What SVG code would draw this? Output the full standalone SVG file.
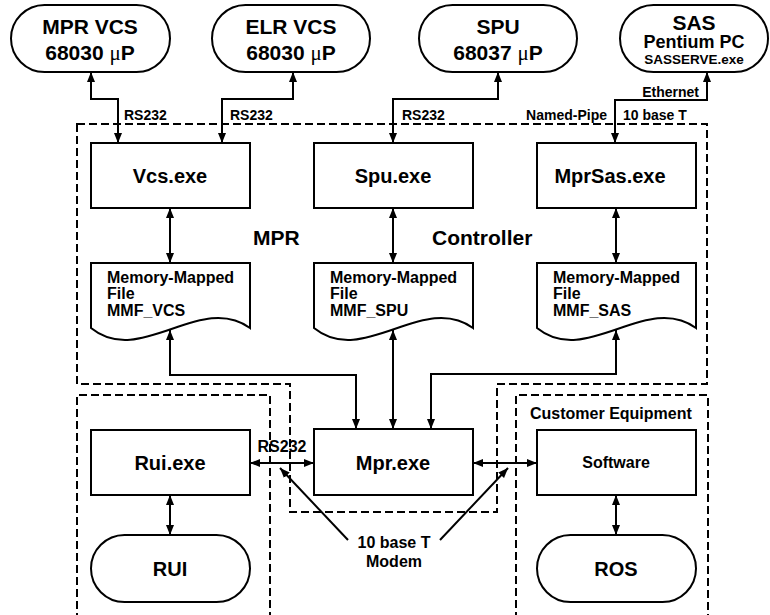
<svg xmlns="http://www.w3.org/2000/svg" width="770" height="615" viewBox="0 0 770 615">
<defs>
<marker id="ah" viewBox="0 0 10 8" refX="10" refY="4" markerWidth="10" markerHeight="8" markerUnits="userSpaceOnUse" orient="auto-start-reverse">
<path d="M0,0 L10,4 L0,8 z" fill="#000"/>
</marker>
<style>
text{font-family:"Liberation Sans",Arial,sans-serif;font-weight:bold;fill:#000}
.n{fill:#fff;stroke:#000;stroke-width:2}
.d{fill:none;stroke:#000;stroke-width:2;stroke-dasharray:8 4}
.c{fill:none;stroke:#000;stroke-width:2}
.b{marker-start:url(#ah);marker-end:url(#ah)}
.e{marker-end:url(#ah)}
.mu{font-family:"Liberation Serif",serif;font-weight:normal}
.t21{font-size:21px}
.t20{font-size:20px}
.t16{font-size:16px}
.t15{font-size:15px}
.t14{font-size:14px}
</style>
</defs>
<rect width="770" height="615" fill="#fff"/>
<g id="boundaries">
<path class="d" d="M77,124 H707 V384 H497 V512 H290 V384 H77 Z"/>
<path class="d" d="M270,620 V395 H77 V620"/>
<path class="d" d="M516,620 V395 H708 V620"/>
<text class="t21" x="253" y="245">MPR</text>
<text class="t21" x="432" y="245">Controller</text>
<text class="t16" x="530" y="419">Customer Equipment</text>
</g>
<g id="mprvcs">
<rect class="n" x="11" y="5" width="159" height="67" rx="33.5"/>
<text class="t21" x="90" y="34" text-anchor="middle">MPR VCS</text>
<text class="t21" x="90" y="60" text-anchor="middle">68030 <tspan class="mu">μ</tspan>P</text>
</g>
<g id="elrvcs">
<rect class="n" x="212" y="5" width="158" height="67" rx="33.5"/>
<text class="t21" x="291" y="34" text-anchor="middle">ELR VCS</text>
<text class="t21" x="291" y="60" text-anchor="middle">68030 <tspan class="mu">μ</tspan>P</text>
</g>
<g id="spu">
<rect class="n" x="419" y="5" width="158" height="67" rx="33.5"/>
<text class="t21" x="498" y="34" text-anchor="middle">SPU</text>
<text class="t21" x="498" y="60" text-anchor="middle">68037 <tspan class="mu">μ</tspan>P</text>
</g>
<g id="sas">
<rect class="n" x="620" y="5" width="148" height="67" rx="33.5"/>
<text class="t21" x="694" y="30" text-anchor="middle">SAS</text>
<text x="694" y="48" text-anchor="middle" style="font-size:18px">Pentium PC</text>
<text x="694" y="64" text-anchor="middle" style="font-size:13.5px">SASSERVE.exe</text>
</g>
<g id="vcsexe">
<rect class="n" x="91" y="143" width="159" height="65"/>
<text class="t20" x="170" y="183" text-anchor="middle">Vcs.exe</text>
</g>
<g id="spuexe">
<rect class="n" x="314" y="143" width="159" height="65"/>
<text class="t20" x="393" y="183" text-anchor="middle">Spu.exe</text>
</g>
<g id="mprsasexe">
<rect class="n" x="537" y="143" width="159" height="65"/>
<text class="t20" x="610" y="183" text-anchor="middle">MprSas.exe</text>
</g>
<g id="mmfvcs">
<path class="n" d="M91,263 H250 V328 C200,292 140,368 91,328 Z"/>
<text class="t16" x="107" y="283">Memory-Mapped</text>
<text class="t16" x="107" y="299">File</text>
<text class="t16" x="107" y="316">MMF_VCS</text>
</g>
<g id="mmfspu">
<path class="n" d="M314,263 H473 V328 C423,292 363,368 314,328 Z"/>
<text class="t16" x="330" y="283">Memory-Mapped</text>
<text class="t16" x="330" y="299">File</text>
<text class="t16" x="330" y="316">MMF_SPU</text>
</g>
<g id="mmfsas">
<path class="n" d="M537,263 H696 V328 C646,292 586,368 537,328 Z"/>
<text class="t16" x="553" y="283">Memory-Mapped</text>
<text class="t16" x="553" y="299">File</text>
<text class="t16" x="553" y="316">MMF_SAS</text>
</g>
<g id="mprexe">
<rect class="n" x="314" y="429" width="159" height="66"/>
<text class="t20" x="393" y="470" text-anchor="middle">Mpr.exe</text>
</g>
<g id="ruiexe">
<rect class="n" x="91" y="430" width="159" height="65"/>
<text class="t20" x="170" y="470" text-anchor="middle">Rui.exe</text>
</g>
<g id="rui">
<rect class="n" x="91" y="535" width="159" height="67" rx="33.5"/>
<text class="t20" x="170" y="576" text-anchor="middle">RUI</text>
</g>
<g id="software">
<rect class="n" x="537" y="430" width="159" height="65"/>
<text class="t16" x="616" y="468" text-anchor="middle">Software</text>
</g>
<g id="ros">
<rect class="n" x="537" y="535" width="159" height="67" rx="33.5"/>
<text class="t20" x="616" y="576" text-anchor="middle">ROS</text>
</g>
<g id="connectors">
<path class="c b" d="M91,72 V99 H118 V143"/>
<path class="c b" d="M293,72 V99 H222 V143"/>
<path class="c b" d="M498,72 V99 H393 V143"/>
<path class="c b" d="M707,72 V100 H615 V143"/>
<path class="c b" d="M170,208 V263"/>
<path class="c b" d="M393,208 V263"/>
<path class="c b" d="M616,208 V263"/>
<path class="c b" d="M170,330 V375 H356 V429"/>
<path class="c b" d="M393,330 V429"/>
<path class="c b" d="M616,330 V374 H431 V429"/>
<path class="c b" d="M250,463 H314"/>
<path class="c b" d="M473,463 H537"/>
<path class="c b" d="M170,495 V535"/>
<path class="c b" d="M616,495 V535"/>
<path class="c e" d="M348,540 L280,468"/>
<path class="c e" d="M440,540 L508,468"/>
<text class="t14" x="124" y="120">RS232</text>
<text class="t14" x="230" y="120">RS232</text>
<text class="t14" x="402" y="120">RS232</text>
<text class="t14" x="607" y="120" text-anchor="end">Named-Pipe</text>
<text class="t14" x="623" y="120">10 base T</text>
<text class="t14" x="699" y="97" text-anchor="end">Ethernet</text>
<text class="t16" x="282" y="452" text-anchor="middle">RS232</text>
<text class="t16" x="394" y="548" text-anchor="middle">10 base T</text>
<text class="t16" x="394" y="567" text-anchor="middle">Modem</text>
</g>
</svg>
